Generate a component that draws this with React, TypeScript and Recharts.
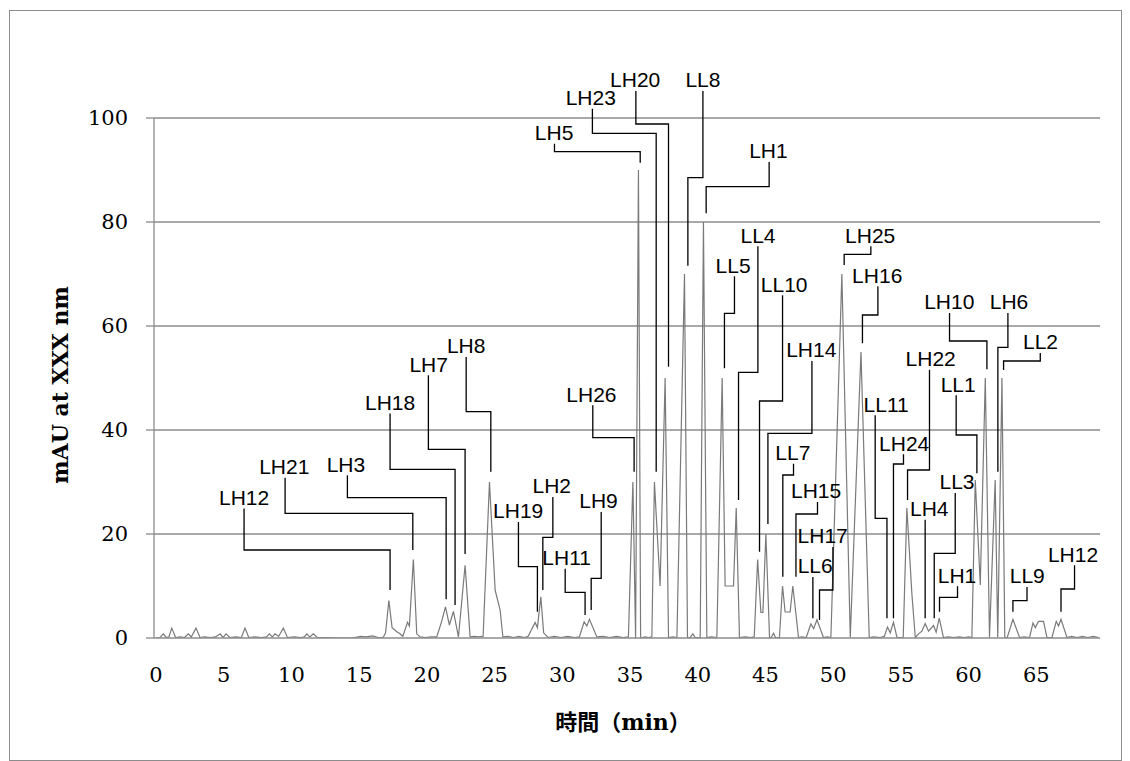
import React from 'react';
import { LineChart, Line, XAxis, YAxis, ReferenceLine, Label } from 'recharts';

// Chromatogram trace (retention time in min, absorbance in mAU)
const timeMin = [
  0, 0.3, 0.54, 0.75, 0.95, 1.16, 1.45, 1.8, 2.1, 2.39, 2.6, 2.95, 3.25, 3.6, 4.0, 4.4, 4.73, 4.95, 5.17, 5.45,
  5.9, 6.3, 6.57, 6.85, 7.3, 7.8, 8.15, 8.37, 8.58, 8.79, 9.05, 9.4, 9.7, 10.2, 10.7, 10.95, 11.13, 11.35, 11.62, 11.9,
  12.5, 13.5, 14.5, 15.1, 15.5, 16.0, 16.4, 16.77, 16.95, 17.19, 17.43, 17.78, 18.02, 18.22, 18.57, 18.71, 19.0, 19.25, 19.5, 19.9,
  20.3, 20.73, 21.1, 21.37, 21.66, 21.96, 22.33, 22.82, 23.19, 23.5, 23.8, 24.15, 24.62, 25.04, 25.41, 25.61, 26.0, 26.4, 26.8, 27.2,
  27.47, 27.99, 28.16, 28.41, 28.62, 28.95, 29.4, 29.9, 30.4, 30.9, 31.26, 31.61, 31.81, 32.0, 32.55, 33.0, 33.5, 34.0, 34.5, 34.88,
  35.21, 35.41, 35.62, 35.78, 36.1, 36.4, 36.61, 36.8, 37.22, 37.59, 37.84, 38.15, 38.46, 39.02, 39.24, 39.44, 39.64, 39.81, 40.18, 40.42,
  40.67, 41.0, 41.41, 41.8, 42.02, 42.64, 42.84, 43.08, 43.5, 43.9, 44.17, 44.42, 44.66, 44.81, 45.03, 45.3, 45.42, 45.59, 45.75, 46.03,
  46.26, 46.45, 46.82, 47.02, 47.44, 47.7, 48.01, 48.35, 48.56, 48.8, 49.28, 49.55, 49.83, 50.64, 51.26, 52.05, 52.66, 53.0, 53.47, 53.77,
  54.01, 54.21, 54.45, 54.71, 55.17, 55.44, 55.81, 56.06, 56.3, 56.55, 56.79, 57.04, 57.41, 57.6, 57.83, 58.14, 58.5, 58.9, 59.3, 59.7,
  60.0, 60.24, 60.49, 60.86, 61.23, 61.54, 61.96, 62.15, 62.46, 62.67, 62.85, 63.27, 63.76, 64.1, 64.5, 64.75, 64.92, 65.16, 65.53, 65.78,
  66.15, 66.47, 66.64, 66.82, 67.26, 67.6, 68.0, 68.4, 68.8, 69.2, 69.6,
];
const mAU = [
  0, 0.1, 0.8, 0.1, 0.2, 1.9, 0.1, 0.2, 0.1, 0.8, 0.2, 1.9, 0.1, 0.2, 0.1, 0.2, 0.8, 0.1, 0.8, 0.1,
  0.2, 0.1, 1.9, 0.1, 0.2, 0.1, 0.2, 0.8, 0.2, 0.8, 0.3, 1.9, 0.1, 0.2, 0.1, 0.2, 0.8, 0.2, 0.8, 0.1,
  0.1, 0, 0, 0.3, 0.2, 0.4, 0.1, 0.1, 1.0, 7.2, 2.0, 1.2, 0.8, 0.3, 3.0, 2.3, 15.1, 0.8, 0.2, 0.1,
  0.2, 0.2, 3.3, 6.0, 2.5, 5.1, 0.2, 14.0, 0.2, 0.3, 0.2, 0.3, 30.0, 9.2, 5.3, 0.2, 0.3, 0.1, 0.3, 0.1,
  0.3, 3.0, 2.0, 7.9, 1.0, 0.1, 0.3, 0.1, 0.3, 0.1, 0.2, 3.1, 2.3, 3.6, 0.2, 0.3, 0.1, 0.3, 0.1, 0.2,
  30.0, 0, 90.0, 0, 0.2, 0.1, 0.2, 30.0, 10.0, 50.0, 0.1, 0.2, 0.1, 70.0, 0.1, 0.1, 0.8, 0.1, 0.1, 80.0,
  0.1, 0.2, 0.1, 50.0, 10.0, 10.0, 25.0, 0.1, 0.2, 0.1, 0.2, 15.1, 4.9, 4.9, 20.0, 0.1, 0.1, 0.9, 0.1, 0.1,
  10.0, 5.0, 5.0, 10.0, 0.1, 0.2, 0.1, 2.7, 1.8, 3.5, 0.1, 0.2, 0.1, 70.0, 0.1, 55.0, 0.1, 0.2, 0.1, 0.3,
  2.1, 1.0, 3.0, 0.1, 0.1, 25.0, 8.5, 0.1, 0.8, 1.3, 2.8, 1.3, 2.4, 1.1, 3.8, 0.1, 0.2, 0.1, 0.2, 0.1,
  0.2, 0.1, 30.4, 10.2, 50.0, 0.1, 30.4, 0.1, 50.0, 0.1, 0.1, 3.6, 0.1, 0.2, 0.1, 2.9, 2.0, 3.2, 3.2, 0.1,
  0.1, 3.2, 2.3, 3.6, 0.1, 0.3, 0.1, 0.3, 0.1, 0.3, 0.1,
];

const xTicks = [0, 5, 10, 15, 20, 25, 30, 35, 40, 45, 50, 55, 60, 65];
const yTicks = [0, 20, 40, 60, 80, 100];

// Peak annotations (all in data units: min / mAU)
const peakNames = ['LH12', 'LH21', 'LH3', 'LH18', 'LH7', 'LH8', 'LH19', 'LH2', 'LH11', 'LH9', 'LH26', 'LH5', 'LH23', 'LH20', 'LL8', 'LH1', 'LL4', 'LL5', 'LL10', 'LH14', 'LL7', 'LH15', 'LH17', 'LL6', 'LH25', 'LH16', 'LL11', 'LH24', 'LH22', 'LH4', 'LL3', 'LH1', 'LL1', 'LH10', 'LH6', 'LL2', 'LL9', 'LH12'];
const labelT = [6.50, 9.47, 14.02, 17.28, 20.13, 22.90, 26.74, 29.22, 30.32, 32.67, 32.15, 29.39, 32.10, 35.38, 40.38, 45.22, 44.45, 42.61, 46.38, 48.38, 47.02, 48.74, 49.22, 48.67, 52.73, 53.25, 53.91, 55.24, 57.20, 57.09, 59.14, 59.14, 59.23, 58.57, 62.98, 65.31, 64.33, 67.71];
const labelV = [25.58, 31.54, 31.98, 43.85, 51.21, 54.75, 23.02, 27.83, 14.04, 24.94, 45.44, 95.77, 102.5, 105.9, 105.9, 92.25, 76.02, 70.25, 66.60, 53.98, 34.23, 26.87, 18.21, 12.44, 76.02, 68.33, 43.52, 36.02, 52.31, 23.46, 28.60, 10.63, 47.37, 63.21, 63.21, 55.52, 10.52, 14.67];
const leaderT = [6.50, 9.53, 14.13, 17.28, 20.11, 22.90, 26.76, 29.30, 30.21, 32.87, 32.25, 29.42, 32.22, 35.43, 40.38, 45.27, 44.44, 42.71, 46.26, 48.43, 47.07, 48.84, 49.98, 48.50, 52.78, 53.30, 53.10, 55.19, 57.11, 56.79, 59.01, 59.18, 59.08, 58.59, 62.90, 65.29, 64.31, 67.82];
const elbowV: (number | null)[] = [16.92, 23.98, 26.98, 32.44, 36.29, 43.52, 13.71, 19.37, 8.79, 11.48, 38.52, 93.52, 97.06, 98.85, 88.52, 86.79, 51.10, 62.44, 45.58, 39.37, 31.35, 23.85, 9.23, null, 73.79, 62.12, 23.02, 33.46, 32.31, null, 16.29, 7.83, 39.04, 57.12, 55.90, 53.27, 7.17, 9.42];
const peakT = [17.28, 18.96, 21.42, 22.08, 22.82, 24.72, 28.16, 28.56, 31.68, 32.13, 35.30, 35.75, 36.93, 37.84, 39.27, 40.62, 43.01, 41.97, 44.56, 45.18, 46.28, 47.25, 48.99, 48.50, 50.81, 52.16, 53.97, 54.45, 55.49, 56.79, 57.46, 57.85, 60.61, 61.35, 62.16, 62.58, 63.27, 66.82];
const tipV = [9.23, 16.92, 7.44, 6.35, 16.15, 31.98, 5.06, 9.23, 4.42, 5.38, 31.98, 91.40, 31.98, 52.17, 71.60, 81.67, 26.54, 51.87, 16.60, 21.92, 11.79, 11.79, 3.46, 3.79, 71.73, 56.67, 3.79, 3.79, 26.54, 3.79, 3.79, 5.06, 31.67, 51.67, 31.98, 51.54, 5.06, 5.06];

const chromatogram = timeMin.map((t, i) => ({ t, v: mAU[i] }));
const labels = peakNames.map((name, i) => ({ t: labelT[i], v: labelV[i], name }));
const leaders = peakNames.map((_, i) => {
  const start = labelV[i] - 0.7;
  const e = elbowV[i];
  if (e === null) {
    return [{ t: leaderT[i], v: start }, { t: peakT[i], v: tipV[i] }];
  }
  return [
    { t: leaderT[i], v: start },
    { t: leaderT[i], v: e },
    { t: peakT[i], v: e },
    { t: peakT[i], v: tipV[i] },
  ];
});

const GRID = '#8c8c8c';
const SERIF = "'DejaVu Serif', 'Liberation Serif', serif";
const SANS = "'Liberation Sans', Arial, sans-serif";
const X_MIN = -0.15;

const renderLabel = (props: any) => {
  const { cx, cy, payload, index } = props;
  return (
    <text key={`lbl-${index}`} x={cx} y={cy} textAnchor="middle" fontFamily={SANS} fontSize={21} fill="#000">
      {payload.name}
    </text>
  );
};

const XTitle = (props: any) => {
  const vb = props.viewBox || { x: 144, y: 627, width: 946, height: 40 };
  return (
    <text x={vb.x + vb.width / 2 - 4} y={711} textAnchor="middle" dominantBaseline="central"
      fontFamily={`${SERIF}, 'Noto Sans CJK JP'`} fontWeight="bold" fontSize={22} fill="#000">
      時間（min）
    </text>
  );
};

const YTitle = () => (
  <text x={50} y={374} transform="rotate(-90, 50, 374)" textAnchor="middle" dominantBaseline="central"
    fontFamily={SERIF} fontWeight="bold" fontSize={22} fill="#000">
    mAU at XXX nm
  </text>
);

export default function App() {
  return (
    <div style={{ position: 'absolute', left: 9, top: 10, width: 1113, height: 751, border: `1px solid ${GRID}`, boxSizing: 'border-box', background: '#fff' }}>
      <LineChart width={1111} height={749} margin={{ top: 55, right: 21, bottom: 82, left: 74 }}>
        <XAxis type="number" dataKey="t" domain={[X_MIN, 69.7]} ticks={xTicks} interval={0} allowDataOverflow
          tickLine={false} axisLine={{ stroke: GRID, strokeWidth: 1.3 }} tickSize={0} tickMargin={29} height={40}
          tick={{ fontFamily: SERIF, fontSize: 21, fill: '#000' }}>
          <Label content={XTitle} />
        </XAxis>
        <YAxis type="number" domain={[0, 110]} ticks={yTicks} interval={0} width={70} allowDataOverflow
          axisLine={false} tickSize={8} tickMargin={18} tickLine={{ stroke: GRID, strokeWidth: 1.3 }}
          tick={{ fontFamily: SERIF, fontSize: 21, fill: '#000' }}>
          <Label content={YTitle} />
        </YAxis>
        {yTicks.filter((v) => v > 0).map((v) => (
          <ReferenceLine key={`grid-${v}`} y={v} stroke={GRID} strokeWidth={1.3} />
        ))}
        <ReferenceLine segment={[{ x: X_MIN, y: 0 }, { x: X_MIN, y: 100 }]} stroke={GRID} strokeWidth={1.3} />
        <Line data={chromatogram} dataKey="v" type="linear" stroke="#7a7a7a" strokeWidth={1.2}
          dot={false} activeDot={false} isAnimationActive={false} />
        {leaders.map((pts, i) => (
          <Line key={`leader-${i}`} data={pts} dataKey="v" type="linear" stroke="#000" strokeWidth={1.3}
            dot={false} activeDot={false} isAnimationActive={false} />
        ))}
        <Line data={labels} dataKey="v" type="linear" stroke="none" dot={renderLabel}
          activeDot={false} isAnimationActive={false} />
      </LineChart>
    </div>
  );
}
